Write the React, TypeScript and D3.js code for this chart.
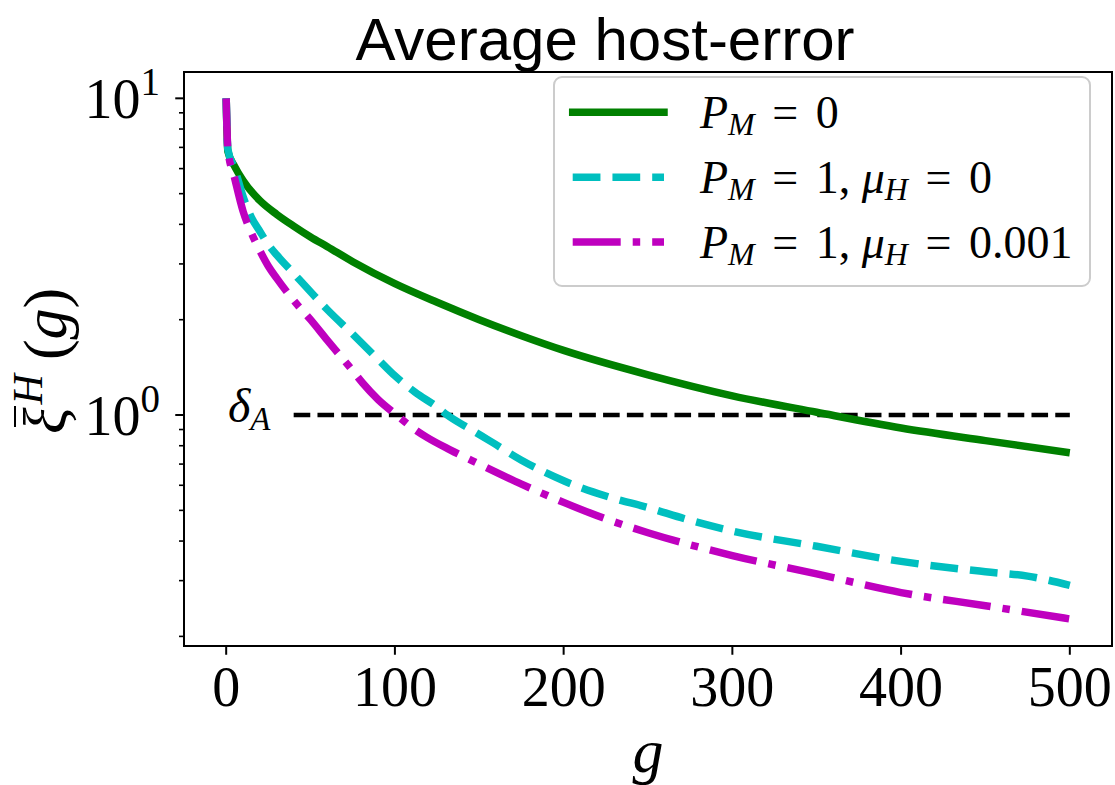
import React from "react";
import * as d3 from "d3";

// ---- data ----
const gGreen = [0, 1, 5, 10, 20, 30, 40, 50, 60, 75, 100, 125, 150, 175, 200, 250, 300, 350, 400, 450, 500];
const vGreen = [10, 6.8, 6.1, 5.5, 4.75, 4.3, 3.95, 3.65, 3.4, 3.05, 2.6, 2.27, 2.0, 1.78, 1.6, 1.34, 1.15, 1.02, 0.91, 0.83, 0.76];

const gCyan = [0, 1, 5, 10, 15, 20, 25, 30, 40, 50, 60, 75, 90, 100, 112, 125, 131, 145, 156, 175, 200, 225, 250, 275, 300, 350, 400, 450, 475, 500];
const vCyan = [10, 6.9, 6.0, 4.9, 4.2, 3.8, 3.45, 3.2, 2.8, 2.45, 2.15, 1.8, 1.5, 1.33, 1.18, 1.06, 1.0, 0.9, 0.83, 0.72, 0.62, 0.555, 0.51, 0.465, 0.43, 0.385, 0.345, 0.32, 0.31, 0.29];

const gMag = [0, 1, 5, 10, 15, 20, 25, 30, 40, 50, 60, 75, 81, 90, 101, 110, 119, 133, 150, 175, 200, 225, 250, 300, 350, 400, 450, 500];
const vMag = [10, 6.9, 5.6, 4.4, 3.75, 3.3, 2.95, 2.7, 2.3, 2.0, 1.72, 1.38, 1.26, 1.12, 1.0, 0.915, 0.85, 0.775, 0.7, 0.605, 0.53, 0.47, 0.425, 0.36, 0.315, 0.275, 0.25, 0.227];

const deltaG = [40, 500];
const deltaV = [1, 1];

const xTicks = [0, 100, 200, 300, 400, 500];
const yMajor = [1, 10];
const yMajorExp = ["0", "1"];
const yMinor = [0.2, 0.3, 0.4, 0.5, 0.6, 0.7, 0.8, 0.9, 2, 3, 4, 5, 6, 7, 8, 9];

const GREEN = "#008000";
const CYAN = "#00bfbf";
const MAG = "#bf00bf";

const SERIF = "'Liberation Serif', 'DejaVu Serif', serif";
const SANS = "'Liberation Sans', Arial, sans-serif";

function Sub({ main, sub }: { main: string; sub: string }) {
  return (
    <>
      <tspan fontStyle="italic">{main}</tspan>
      <tspan fontStyle="italic" fontSize={32} dy={7}>{sub}</tspan>
    </>
  );
}

export default function App() {
  const W = 1115;
  const H = 785;
  const left = 184, right = 1112, top = 72, bottom = 646;
  const x = d3.scaleLinear().domain([-25, 525]).range([left, right]);
  const y = d3.scaleLog().domain([0.1865, 12.11]).range([bottom, top]);

  const mk = (gs: number[], vs: number[], curve: any = d3.curveMonotoneX) =>
    d3
      .line<number>()
      .x((_, i) => x(gs[i]))
      .y((_, i) => y(vs[i]))
      .curve(curve)(gs) as string;

  const lw = 7.5;
  const tickFont = 56;
  const eqGap = 6;

  return (
    <svg width={W} height={H} style={{ position: "absolute", left: 0, top: 0, background: "#fff" }}>
      <defs>
        <clipPath id="plotclip">
          <rect x={left} y={top} width={right - left} height={bottom - top} />
        </clipPath>
      </defs>
      <rect x={0} y={0} width={W} height={H} fill="#fff" />

      {/* title */}
      <text x={605} y={60} fontFamily={SANS} fontSize={60} textAnchor="middle" fill="#000">
        Average host-error
      </text>

      <g clipPath="url(#plotclip)">
        <path d={mk(deltaG, deltaV, d3.curveLinear)} fill="none" stroke="#000" strokeWidth={4.5} strokeDasharray="16.6 7.2" />
        <path d={mk(gGreen, vGreen)} fill="none" stroke={GREEN} strokeWidth={lw} strokeLinejoin="round" />
        <path d={mk(gCyan, vCyan)} fill="none" stroke={CYAN} strokeWidth={lw} strokeDasharray="27.75 12" strokeLinejoin="round" />
        <path d={mk(gMag, vMag)} fill="none" stroke={MAG} strokeWidth={lw} strokeDasharray="48 12 7.5 12" strokeLinejoin="round" />
      </g>

      {/* delta_A label */}
      <text x={228} y={422} fontFamily={SERIF} fontSize={48} fill="#000">
        <tspan fontStyle="italic">δ</tspan>
        <tspan fontStyle="italic" fontSize={33} dy={8}>A</tspan>
      </text>

      {/* axes frame */}
      <rect x={left} y={top} width={right - left} height={bottom - top} fill="none" stroke="#000" strokeWidth={2} />

      {/* x ticks */}
      {xTicks.map((t) => (
        <g key={"x" + t}>
          <line x1={x(t)} x2={x(t)} y1={bottom} y2={bottom + 8.75} stroke="#000" strokeWidth={2} />
          <text x={x(t)} y={706} fontFamily={SERIF} fontSize={tickFont} textAnchor="middle" fill="#000">
            {t}
          </text>
        </g>
      ))}

      {/* y ticks */}
      {yMajor.map((t, i) => (
        <g key={"y" + t}>
          <line x1={left - 8.75} x2={left} y1={y(t)} y2={y(t)} stroke="#000" strokeWidth={2} />
          <text x={160} y={y(t) + 20} fontFamily={SERIF} fontSize={tickFont} textAnchor="end" fill="#000">
            <tspan>10</tspan>
            <tspan fontSize={39} dy={-23}>{yMajorExp[i]}</tspan>
          </text>
        </g>
      ))}
      {yMinor.map((t) => (
        <line key={"m" + t} x1={left - 5} x2={left} y1={y(t)} y2={y(t)} stroke="#000" strokeWidth={1.6} />
      ))}

      {/* x label */}
      <text x={648} y={772} fontFamily={SERIF} fontSize={62} fontStyle="italic" textAnchor="middle" fill="#000">
        g
      </text>

      {/* y label */}
      <g transform="rotate(-90)">
        <text x={-434} y={66} fontFamily={SERIF} fontSize={62} fill="#000">
          <tspan fontStyle="italic">ξ</tspan>
          <tspan fontStyle="italic" fontSize={42} dy={-24} dx={3}>H</tspan>
          <tspan dy={24} dx={14}>(</tspan>
          <tspan fontStyle="italic">g</tspan>
          <tspan>)</tspan>
        </text>
      </g>
      <line x1={15} x2={15} y1={406} y2={427} stroke="#000" strokeWidth={2} />

      {/* legend */}
      <rect x={554} y={77} width={536} height={209} rx={8} ry={8} fill="#fff" fillOpacity={0.8} stroke="#cccccc" strokeWidth={2} />
      {[
        { c: GREEN, dash: "none", cy: 112.3 },
        { c: CYAN, dash: "27.75 12", cy: 177.3 },
        { c: MAG, dash: "48 12 7.5 12", cy: 242 },
      ].map((r, i) => (
        <line
          key={"lh" + i}
          x1={572.7}
          x2={664}
          y1={r.cy}
          y2={r.cy}
          stroke={r.c}
          strokeWidth={lw}
          strokeDasharray={r.dash}
          strokeLinecap={i === 0 ? "square" : "butt"}
        />
      ))}
      <text x={700} y={128} fontFamily={SERIF} fontSize={46} fill="#000">
        <Sub main="P" sub="M" />
        <tspan dy={-7} dx={eqGap}>{" ="}</tspan>
        <tspan dx={eqGap}>{" 0"}</tspan>
      </text>
      <text x={700} y={193} fontFamily={SERIF} fontSize={46} fill="#000">
        <Sub main="P" sub="M" />
        <tspan dy={-7} dx={eqGap}>{" ="}</tspan>
        <tspan dx={eqGap}>{" 1, "}</tspan>
        <Sub main="μ" sub="H" />
        <tspan dy={-7} dx={eqGap}>{" ="}</tspan>
        <tspan dx={eqGap}>{" 0"}</tspan>
      </text>
      <text x={700} y={258} fontFamily={SERIF} fontSize={46} fill="#000">
        <Sub main="P" sub="M" />
        <tspan dy={-7} dx={eqGap}>{" ="}</tspan>
        <tspan dx={eqGap}>{" 1, "}</tspan>
        <Sub main="μ" sub="H" />
        <tspan dy={-7} dx={eqGap}>{" ="}</tspan>
        <tspan dx={eqGap}>{" 0.001"}</tspan>
      </text>
    </svg>
  );
}
